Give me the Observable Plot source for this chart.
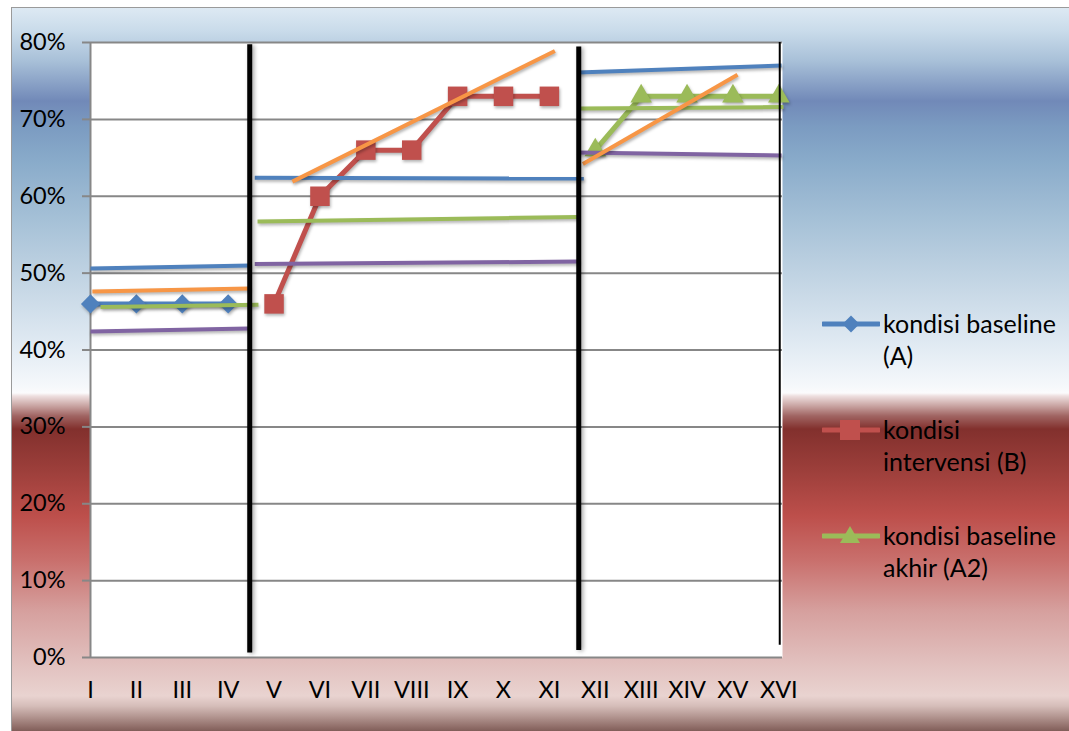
<!DOCTYPE html>
<html><head><meta charset="utf-8">
<script src="https://cdn.jsdelivr.net/npm/d3@7"></script>
<script src="https://cdn.jsdelivr.net/npm/@observablehq/plot@0.6"></script>
<style>
html,body{margin:0;padding:0;background:#fff;}
#wrap{position:relative;width:1069px;height:731px;overflow:hidden;}
#bg{position:absolute;left:11px;top:7px;right:0;bottom:0;
 border-left:1.5px solid #9a9a9a;border-top:1.5px solid #9a9a9a;
 background:linear-gradient(to bottom,
  #dde9f3 0px,#c9dbea 23px,#a8c0d8 53px,#7189b8 93px,#7b9bc1 118px,#89abca 153px,
  #a6c1d7 213px,#c3d5e4 273px,#dfe9f2 333px,#f5f8fb 378px,#fbfbfc 385px,
  #eedfdf 388px,#c8a3a1 398px,#a06462 408px,#82302d 421px,#9d3f3b 463px,#bd4f4b 508px,
  #c9706d 553px,#d6a09e 603px,#e1bfbd 653px,#e9d3d0 688px,#d5bdb9 698px,#b59893 708px,
  #93716c 718px,#7d5a55 724px);}
#chart{position:absolute;left:0;top:0;}
#chart g[aria-label="line"] path,#chart g[aria-label="link"] path,#chart g[aria-label="dot"] path{filter:drop-shadow(1px 2px 1.5px rgba(0,0,0,0.3));}
#chart .sep line{filter:drop-shadow(2px 1px 2px rgba(0,0,0,0.35));}
#legend{position:absolute;left:822px;top:307px;font-family:"Lato",sans-serif;font-size:25px;color:#000;}
.item{position:absolute;left:0;width:247px;height:100px;}
.item svg{position:absolute;left:0;top:0;}
.item .lbl{position:absolute;left:61px;top:0;line-height:32px;white-space:nowrap;}
</style>
</head><body>
<div id="wrap"><div id="bg"></div><div id="chart"></div><div id="legend"></div></div>
<script>
// ---- data ----
const categories = ["I","II","III","IV","V","VI","VII","VIII","IX","X","XI","XII","XIII","XIV","XV","XVI"];
const yTicks = [0,10,20,30,40,50,60,70,80];
const seriesNames = ["kondisi baseline (A)","kondisi intervensi (B)","kondisi baseline akhir (A2)"];
const legendLabels = [["kondisi baseline","(A)"],["kondisi","intervensi (B)"],["kondisi baseline","akhir (A2)"]];
// category index (1-based) and values in %
const baselineAIdx = [1,2,3,4];
const baselineA = [46,46,46,46];
const intervensiBIdx = [5,6,7,8,9,10,11];
const intervensiB = [46,60,66,66,73,73,73];
const baselineA2Idx = [12,13,14,15,16];
const baselineA2 = [66,73,73,73,73];
// stability / trend lines per phase: [x1, y1, x2, y2] in category index units and %
const upperLines = [[1.0,50.6,4.49,51.0],[4.58,62.4,11.75,62.3],[11.62,76.1,16.06,77.0]];
const trendLines = [[1.04,47.6,4.47,48.0],[5.40,61.9,11.12,78.9],[11.73,64.2,15.10,75.8]];
const meanLines  = [[1.22,45.6,4.66,45.9],[4.64,56.7,11.62,57.3],[11.68,71.4,16.10,71.6]];
const lowerLines = [[1.0,42.4,4.44,42.8],[4.58,51.2,11.64,51.5],[11.62,65.7,16.06,65.3]];
// phase separators: [x, yBottom, yTop]
const phaseBreaks = [[4.47,0.6,79.7],[11.64,0.9,79.4]];
const endLine = [[16.02,1.6,80]];

// ---- build ----
const colors = {A:"#4F81BD", B:"#C0504D", A2:"#9BBB59", upper:"#4F81BD", trend:"#F79646", mean:"#9BBB59", lower:"#8064A2"};
const toPts = (idx, vals, s) => idx.map((x,i)=>({x, y: vals[i], s}));
const ptsA = toPts(baselineAIdx, baselineA, "A");
const ptsB = toPts(intervensiBIdx, intervensiB, "B");
const ptsA2 = toPts(baselineA2Idx, baselineA2, "A2");
const seg = (arr, k) => arr.map(([x1,y1,x2,y2])=>({x1,y1,x2,y2,k}));
const segs = [...seg(upperLines,"upper"),...seg(meanLines,"mean"),...seg(lowerLines,"lower"),...seg(trendLines,"trend")];
const brk = phaseBreaks.map(([x,y1,y2])=>({x,y1,y2}));
const endL = endLine.map(([x,y1,y2])=>({x,y1,y2}));

const plot = Plot.plot({
  width:1069, height:731,
  marginLeft:90, marginRight:287, marginTop:42, marginBottom:74,
  style:{background:"transparent", fontFamily:"Lato, sans-serif", fontSize:"23.5px", color:"#000"},
  x:{domain:[1,16.08]},
  y:{domain:[0,80]},
  marks:[
    Plot.frame({fill:"white", stroke:null}),
    Plot.ruleY(yTicks, {stroke:"#878787", strokeWidth:2}),
    Plot.ruleX([1], {stroke:"#878787", strokeWidth:2}),
    Plot.axisY({ticks:yTicks, tickFormat:d=>d+"%", tickSize:8, tickPadding:17, stroke:"#878787", strokeWidth:2}),
    Plot.axisX({ticks:d3.range(1,17), tickFormat:i=>categories[i-1], tickSize:0, tickPadding:24, label:null}),
    Plot.line(ptsA, {x:"x", y:"y", stroke:colors.A, strokeWidth:5}),
    Plot.dot(ptsA, {x:"x", y:"y", symbol:"diamond2", r:8.6, fill:colors.A, stroke:null}),
    Plot.line(ptsB, {x:"x", y:"y", stroke:colors.B, strokeWidth:5}),
    Plot.dot(ptsB, {x:"x", y:"y", symbol:"square", r:11, fill:colors.B, stroke:null}),
    Plot.line(ptsA2, {x:"x", y:"y", stroke:colors.A2, strokeWidth:5}),
    Plot.dot(ptsA2, {x:"x", y:"y", symbol:"triangle", r:8, fill:colors.A2, stroke:null}),
    Plot.link(segs, {x1:"x1", y1:"y1", x2:"x2", y2:"y2", stroke:d=>colors[d.k], strokeWidth:4}),
    Plot.ruleX(brk, {x:"x", y1:"y1", y2:"y2", stroke:"#000", strokeWidth:5, className:"sep"}),
    Plot.ruleX(endL, {x:"x", y1:"y1", y2:"y2", stroke:"#000", strokeWidth:2})
  ]
});
document.getElementById("chart").appendChild(plot);

// legend
const legend = document.getElementById("legend");
const syms = [
  `<path d="M29,8.5 L37.5,17 L29,25.5 L20.5,17 Z" fill="${colors.A}"/>`,
  `<rect x="18" y="7" width="20" height="20" fill="${colors.B}"/>`,
  `<path d="M28,7 L38,24 L18,24 Z" fill="${colors.A2}"/>`
];
const sc = [colors.A, colors.B, colors.A2];
legendLabels.forEach((lines,i)=>{
  const it = document.createElement("div");
  it.className="item";
  it.style.top = (i*106)+"px";
  it.innerHTML = `<svg width="58" height="36"><line x1="1" x2="57" y1="17" y2="17" stroke="${sc[i]}" stroke-width="5" stroke-linecap="round"/>${syms[i]}</svg>`+
    `<div class="lbl">${lines.join("<br>")}</div>`;
  it.title = seriesNames[i];
  legend.appendChild(it);
});
</script>
</body></html>
